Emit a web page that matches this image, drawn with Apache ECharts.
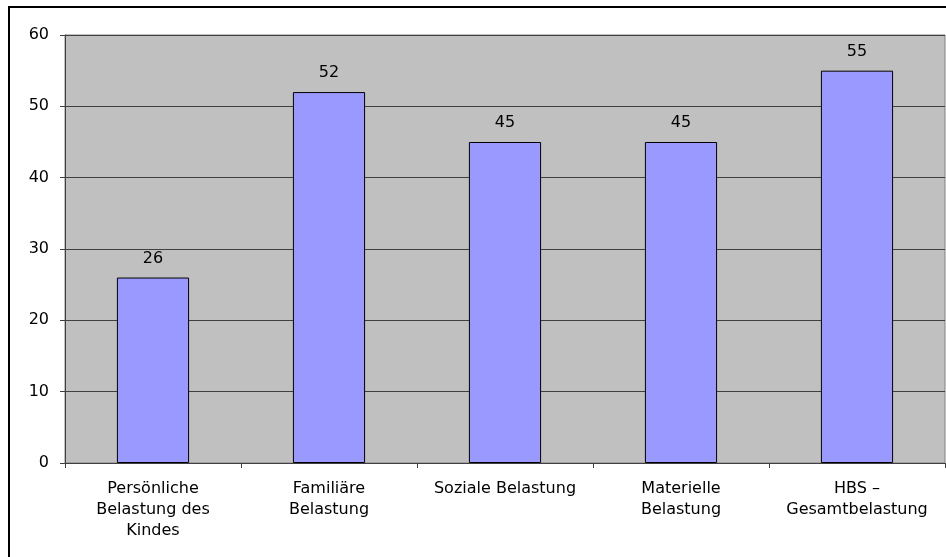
<!DOCTYPE html>
<html><head><meta charset="utf-8">
<script src="https://cdn.jsdelivr.net/npm/echarts@6/dist/echarts.min.js"></script>
<style>html,body{margin:0;padding:0;background:#fff}#c{width:946px;height:557px}</style>
</head><body><div id="c"></div>
<script>
const categories = ["Persönliche\nBelastung des\nKindes", "Familiäre\nBelastung", "Soziale Belastung", "Materielle\nBelastung", "HBS –\nGesamtbelastung"];
const values = [26, 52, 45, 45, 55];
const yTicks = { min: 0, max: 60, interval: 10 };

const FONT = 'DejaVu Sans';
const chart = echarts.init(document.getElementById('c'), null, { renderer: 'canvas' });
chart.setOption({
  animation: false,
  backgroundColor: '#ffffff',
  textStyle: { fontFamily: FONT },
  graphic: [{
    type: 'rect', shape: { x: 9, y: 7, width: 960, height: 600 },
    style: { fill: 'none', stroke: '#000', lineWidth: 2 }, silent: true, z: -10
  }],
  grid: { left: 65, right: 1, top: 35, bottom: 94, show: true, backgroundColor: '#C0C0C0', borderColor: '#808080', borderWidth: 1 },
  xAxis: {
    type: 'category', data: categories,
    axisLine: { lineStyle: { color: '#404040', width: 1 } },
    axisTick: { show: true, alignWithLabel: false, length: 5, lineStyle: { color: '#404040' } },
    axisLabel: { color: '#000', fontSize: 16, lineHeight: 21, margin: 15, interval: 0, fontFamily: FONT }
  },
  yAxis: {
    type: 'value', min: yTicks.min, max: yTicks.max, interval: yTicks.interval,
    axisLine: { show: true, lineStyle: { color: '#404040', width: 1 } },
    axisTick: { show: true, length: 5, lineStyle: { color: '#404040' } },
    axisLabel: { color: '#000', fontSize: 16, margin: 16, fontFamily: FONT },
    splitLine: { show: true, lineStyle: { color: '#404040', width: 1 } }
  },
  series: [{
    type: 'bar', data: values, barWidth: '41%',
    itemStyle: { color: '#9999FF', borderColor: '#000', borderWidth: 1 },
    label: { show: true, position: 'top', distance: 11, color: '#000', fontSize: 16, fontFamily: FONT }
  }]
});
</script></body></html>
